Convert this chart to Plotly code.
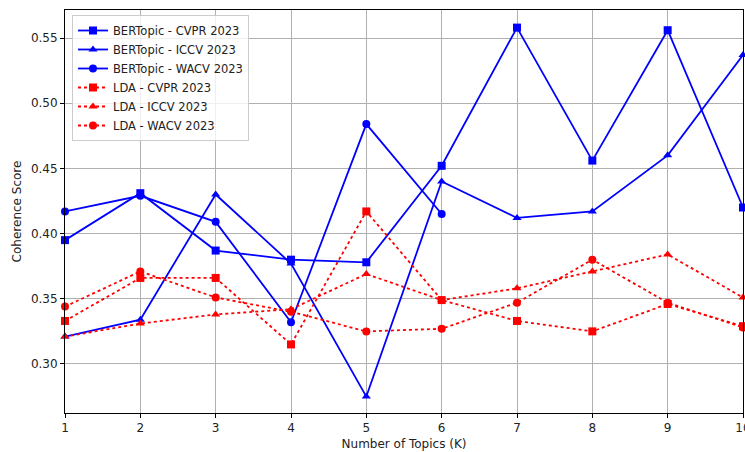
import plotly.graph_objects as go

topics = [1, 2, 3, 4, 5, 6, 7, 8, 9, 10]

bert_cvpr = [0.395, 0.431, 0.387, 0.380, 0.378, 0.452, 0.558, 0.456, 0.556, 0.420]
bert_iccv = [0.321, 0.334, 0.430, 0.377, 0.275, 0.440, 0.412, 0.417, 0.460, 0.537]
bert_wacv = [0.417, 0.429, 0.409, 0.332, 0.484, 0.415]
lda_cvpr = [0.333, 0.366, 0.366, 0.315, 0.417, 0.349, 0.333, 0.325, 0.346, 0.329]
lda_iccv = [0.321, 0.331, 0.338, 0.342, 0.369, 0.349, 0.358, 0.371, 0.384, 0.351]
lda_wacv = [0.344, 0.371, 0.351, 0.340, 0.325, 0.327, 0.347, 0.380, 0.347, 0.328]

series = [
    ("BERTopic - CVPR 2023", bert_cvpr, "blue", "solid", "square"),
    ("BERTopic - ICCV 2023", bert_iccv, "blue", "solid", "triangle-up"),
    ("BERTopic - WACV 2023", bert_wacv, "blue", "solid", "circle"),
    ("LDA - CVPR 2023", lda_cvpr, "red", "dot", "square"),
    ("LDA - ICCV 2023", lda_iccv, "red", "dot", "triangle-up"),
    ("LDA - WACV 2023", lda_wacv, "red", "dot", "circle"),
]

fig = go.Figure()
for name, vals, color, dash, sym in series:
    fig.add_trace(go.Scatter(
        x=topics[:len(vals)], y=vals, name=name, mode="lines+markers",
        line=dict(color=color, width=1.8, dash=dash),
        marker=dict(symbol=sym, size=8, color=color),
        cliponaxis=False,
    ))

FONT = "DejaVu Sans"
axis_common = dict(
    showline=True, mirror=True, linecolor="black", linewidth=1,
    ticks="outside", ticklen=4, tickcolor="black", tickwidth=1,
    showgrid=True, gridcolor="#b0b0b0", gridwidth=1, zeroline=False,
    tickfont=dict(family=FONT, size=12, color="#222222"),
    automargin=False, ticklabeloverflow="allow",
)

fig.update_layout(
    width=745, height=452,
    margin=dict(l=65, r=2, t=10, b=39),
    paper_bgcolor="white", plot_bgcolor="white",
    font=dict(family=FONT, size=12, color="#222222"),
    xaxis=dict(range=[1, 10], tickvals=topics, ticktext=[str(t) for t in topics],
               title=dict(text="Number of Topics (K)", standoff=5,
                          font=dict(family=FONT, size=12)),
               **axis_common),
    yaxis=dict(range=[0.2624, 0.5715], tickvals=[0.30, 0.35, 0.40, 0.45, 0.50, 0.55],
               tickformat=".2f",
               title=dict(text="Coherence Score", standoff=6,
                          font=dict(family=FONT, size=12)),
               **axis_common),
    legend=dict(x=0.0103, y=0.9876, xanchor="left", yanchor="top",
                bgcolor="rgba(255,255,255,0.8)", bordercolor="#cccccc", borderwidth=1,
                font=dict(family=FONT, size=11.5), tracegroupgap=0,
                itemwidth=30),
    showlegend=True,
)

fig.write_html("out.html", config={"displayModeBar": False},
               post_script="document.body.style.margin='0';document.body.style.padding='0';")
